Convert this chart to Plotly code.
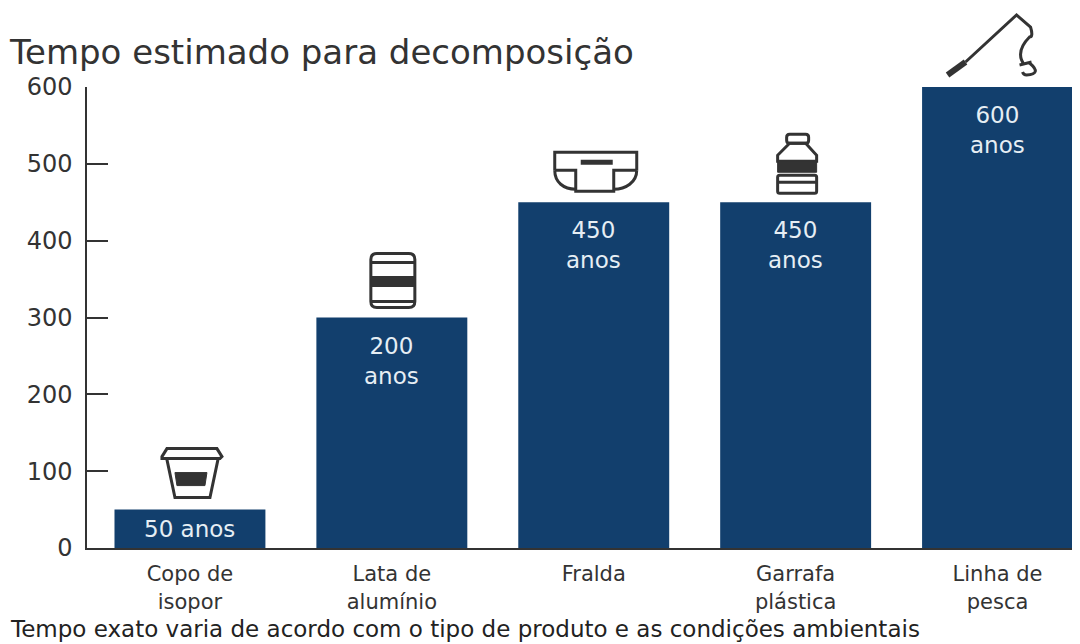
import plotly.graph_objects as go

categories = ["Copo de<br>isopor", "Lata de<br>alumínio", "Fralda", "Garrafa<br>plástica", "Linha de<br>pesca"]
bar_heights = [50, 300, 450, 450, 600]
bar_labels = ["50 anos", "200<br>anos", "450<br>anos", "450<br>anos", "600<br>anos"]
y_ticks = [0, 100, 200, 300, 400, 500, 600]
title_text = "Tempo estimado para decomposição"
footer_text = "Tempo exato varia de acordo com o tipo de produto e as condições ambientais"

NAVY = "#123f6d"
INK = "#333333"
FONT = "DejaVu Sans"
Y_MAX = 600

# icon drawings: (path, filled, line width), pixel offsets from the top centre of each bar (y up)
icons = [
    [("M-28,53 L-23,61 L27,61 L32,53 L30,51 L-28,51 Z", False, 3),
     ("M-23,50 L-15,12 L20,12 L28,50", False, 3),
     ("M-15,37 L17,37 L15,24 L-13,24 Z", True, 1)],
    [("M-15,64 L17,64 Q23,64 23,58 L23,16 Q23,10 17,10 L-15,10 Q-21,10 -21,16 L-21,58 Q-21,64 -15,64 Z", False, 3),
     ("M-21,55 L23,55 M-21,16 L23,16", False, 3),
     ("M-21,41 L23,41 L23,31 L-21,31 Z", True, 1)],
    [("M-39,32 L-39,50 L43,50 L43,32", False, 3),
     ("M-39,32 L-18,32 L-18,11 L20,11 L20,32 L43,32", False, 3),
     ("M-39,32 C-39,20 -30,13 -18,13 M43,32 C43,20 32,13 20,13", False, 3),
     ("M-13,40 L19,40", False, 5)],
    [("M-6,68 L10,68 Q13,68 13,65 L13,62 Q13,59 10,59 L-6,59 Q-9,59 -9,62 L-9,65 Q-9,68 -6,68 Z", False, 3),
     ("M-6,59 L10,59 L21,47 L21,41 L-18,41 L-18,47 Z", False, 3),
     ("M-18,41 L21,41 L21,30 L-18,30 Z", True, 1),
     ("M-16,27 L19,27 Q21,27 21,25 L21,11 Q21,9 19,9 L-16,9 Q-18,9 -18,11 L-18,25 Q-18,27 -16,27 Z M-18,20 L21,20", False, 3)],
    [("M-50,12 L-32,25", False, 6),
     ("M-32,25 L19,72 L33,60 Q36,50 32,50 Q20,38 24,27 L26,23", False, 3),
     ("M22,22 L34,25 M32,24 Q45,13 29,12 Q26,12 25,15", False, 3)],
]

fig = go.Figure(go.Bar(
    x=list(range(len(categories))),
    y=bar_heights,
    width=151 / 202,
    marker=dict(color=NAVY, line=dict(width=0)),
    hoverinfo="skip",
))

for i, label in enumerate(bar_labels):
    fig.add_annotation(
        x=i, y=bar_heights[i], text=label, showarrow=False, yanchor="top",
        yshift=-4 if bar_heights[i] == 50 else -13,
        font=dict(family=FONT, size=23, color="#e6eef4"),
    )
    for path, filled, lw in icons[i]:
        fig.add_shape(
            type="path", xref="x", yref="paper", xsizemode="pixel", ysizemode="pixel",
            xanchor=i, yanchor=bar_heights[i] / Y_MAX, path=path,
            fillcolor=INK if filled else "rgba(0,0,0,0)",
            line=dict(color=INK, width=lw),
        )

fig.add_annotation(
    xref="paper", yref="paper", x=-79 / 993, y=-(629 - 548) / 461,
    xanchor="left", yanchor="middle", text=footer_text, showarrow=False,
    font=dict(family=FONT, size=23, color="#222222"),
)

fig.update_layout(
    width=1072, height=636,
    margin=dict(l=79, r=0, t=79, b=96, pad=0),
    paper_bgcolor="white", plot_bgcolor="white",
    showlegend=False,
    title=dict(text=title_text, x=2 / 1072, xanchor="left", y=1 - 44 / 636, yanchor="middle",
               font=dict(family=FONT, size=34, color=INK)),
    xaxis=dict(range=[-103 / 202, 4 + 82.5 / 202], tickmode="array",
               tickvals=list(range(len(categories))), ticktext=categories,
               ticks="", showgrid=False, zeroline=False, showline=True,
               linecolor=INK, linewidth=2, ticklabelstandoff=6,
               tickfont=dict(family=FONT, size=21, color=INK)),
    yaxis=dict(range=[0, Y_MAX], tickmode="array", tickvals=y_ticks,
               ticks="inside", ticklen=21, tickcolor=INK, tickwidth=1.5,
               showgrid=False, zeroline=False, showline=True,
               linecolor=INK, linewidth=1.5, ticklabelstandoff=8,
               tickfont=dict(family=FONT, size=24, color=INK)),
)

fig.write_html("out.html")
